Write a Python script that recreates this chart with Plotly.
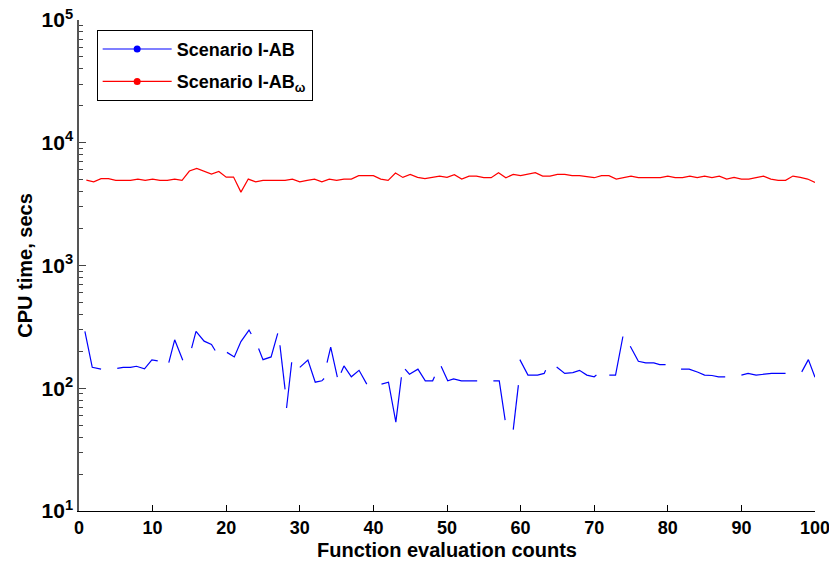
import plotly.graph_objects as go

# Scenario I-AB: CPU time per function evaluation (None marks a missing run)
eval_blue = [0.8, 1.8, 3.0, None,
             5.2, 6.0, 7.0, 7.8, 8.9, 9.9, 10.7, None,
             12.2, 13.0, 14.1, None,
             15.3, 15.9, 17.0, 18.0, 18.5, None,
             20.1, 21.1, 22.0, 23.1, 23.4, None,
             24.4, 25.0, 26.1, 27.0, None,
             27.3, 28.0, None,
             28.2, 28.9, None,
             30.0, 31.1, 32.1, 33.0, 33.3, None,
             33.7, 34.2, 35.1, None,
             35.6, 36.0, 37.0, 38.05, 39.1, None,
             41.1, 42.05, 43.05, 43.8, None,
             44.3, 44.9, 46.05, 47.05, 48.05, 48.3, None,
             49.2, 50.1, 50.9, 51.95, 54.1, None,
             56.3, 57.1, 57.9, None,
             59.0, 59.7, None,
             59.9, 61.0, 62.3, 63.2, 63.4, None,
             64.9, 66.0, 67.1, 68.0, 69.0, 70.0, 70.3, None,
             72.05, 72.9, 73.9, None,
             74.9, 76.0, 77.0, 78.1, 78.9, 79.7, None,
             81.8, 82.9, 84.1, 85.0, 86.0, 86.9, 87.8, None,
             90.0, 90.9, 92.0, 92.9, 94.1, 96.0, None,
             98.2, 99.1, 100.0]
cpu_blue = [291, 148, 143, None,
            145, 148, 148, 151, 144, 170, 167, None,
            162, 248, 169, None,
            212, 291, 242, 227, 203, None,
            196, 180, 240, 298, 277, None,
            211, 171, 180, 280, None,
            224, 98, None,
            69, 163, None,
            148, 170, 112, 115, 120, None,
            162, 216, 123, None,
            134, 152, 124, 140, 108, None,
            108, 112, 53, 123, None,
            143, 130, 143, 115, 115, 124, None,
            151, 115, 119, 115, 115, None,
            115, 115, 55, None,
            46, 106, None,
            171, 128, 128, 132, 140, None,
            149, 132, 134, 140, 128, 124, 128, None,
            128, 128, 264, None,
            220, 166, 161, 161, 156, 156, None,
            143, 143, 135, 128, 127, 124, 124, None,
            128, 132, 128, 130, 132, 132, None,
            136, 171, 123]

# Scenario I-ABω: CPU time for evaluations 1..100
eval_red = list(range(1, 101))
cpu_red = [4960, 4810, 5100, 5100, 4940, 4940, 4940, 5060, 4940, 5060,
           4940, 4940, 5060, 4940, 5880, 6180, 5880, 5560, 5840, 5250,
           5250, 3960, 5060, 4810, 4940, 4940, 4940, 4940, 5060, 4810,
           4940, 5060, 4810, 5060, 4940, 5060, 5060, 5390, 5390, 5390,
           5060, 4940, 5660, 5220, 5520, 5220, 5100, 5220, 5350, 5220,
           5500, 5060, 5350, 5350, 5190, 5190, 5700, 5190, 5520, 5390,
           5520, 5700, 5350, 5350, 5520, 5520, 5390, 5390, 5300, 5190,
           5390, 5390, 5060, 5220, 5350, 5190, 5190, 5190, 5190, 5350,
           5190, 5190, 5350, 5190, 5350, 5190, 5350, 5060, 5220, 5060,
           5060, 5200, 5350, 5060, 4940, 4940, 5350, 5220, 5060, 4750]

x_ticks = [0, 10, 20, 30, 40, 50, 60, 70, 80, 90, 100]
x_ticktext = [str(v) for v in x_ticks]
y_ticks = [10, 100, 1000, 10000, 100000]
y_ticktext = ["10<sup>1</sup>", "10<sup>2</sup>", "10<sup>3</sup>",
              "10<sup>4</sup>", "10<sup>5</sup>"]
y_minor = [m * 10 ** e for e in range(1, 5) for m in range(2, 10)]

names = ["Scenario I-AB", "Scenario I-AB<sub>ω</sub>"]
colors = ["#0000ff", "#ff0000"]

FONT = "Liberation Sans, Arial, sans-serif"

fig = go.Figure()
fig.add_trace(go.Scatter(x=eval_blue, y=cpu_blue, mode="lines",
                         line=dict(color=colors[0], width=1.2),
                         connectgaps=False, showlegend=False))
fig.add_trace(go.Scatter(x=eval_red, y=cpu_red, mode="lines",
                         line=dict(color=colors[1], width=1.2),
                         showlegend=False))
# legend keys: line with a dot, as in the series style
for i, (name, c) in enumerate(zip(names, colors)):
    fig.add_trace(go.Scatter(x=[None], y=[None], mode="lines+markers",
                             name=name, legendgroup=f"g{i}",
                             line=dict(color=c, width=1.2),
                             marker=dict(color=c, size=7)))

fig.update_layout(
    width=829, height=571,
    margin=dict(l=79, r=14, t=20, b=60),
    paper_bgcolor="white", plot_bgcolor="white",
    font=dict(family=FONT, size=16, color="black"),
    showlegend=True,
    legend=dict(x=0.024, y=0.98, xanchor="left", yanchor="top",
                bgcolor="white", bordercolor="black", borderwidth=1,
                font=dict(family=FONT, size=18, color="black",
                          weight="bold"),
                traceorder="grouped", tracegroupgap=6,
                itemwidth=69),
)
fig.update_xaxes(
    range=[0, 100], tickmode="array", tickvals=x_ticks,
    ticktext=x_ticktext, ticklabeloverflow="allow", automargin=False,
    ticks="inside", ticklen=6, tickcolor="black", tickwidth=1,
    showline=True, linecolor="black", linewidth=1, mirror=False,
    showgrid=False, zeroline=False,
    tickfont=dict(family=FONT, size=18, weight="bold"),
    title=dict(text="Function evaluation counts", standoff=6,
               font=dict(family=FONT, size=20, weight="bold")),
)
fig.update_yaxes(
    type="log", range=[1, 5], tickmode="array",
    tickvals=y_ticks, ticktext=y_ticktext, ticklabeloverflow="allow",
    automargin=False,
    ticks="inside", ticklen=7, tickcolor="#444", tickwidth=1,
    minor=dict(tickmode="array", tickvals=y_minor, ticks="inside",
               ticklen=4, tickcolor="#444", showgrid=False),
    showline=True, linecolor="#555", linewidth=1.5, mirror=False,
    showgrid=False, zeroline=False,
    tickfont=dict(family=FONT, size=21, weight="bold"),
    title=dict(text="CPU time, secs", standoff=4,
               font=dict(family=FONT, size=20, weight="bold")),
)

fig.write_html("out.html")
